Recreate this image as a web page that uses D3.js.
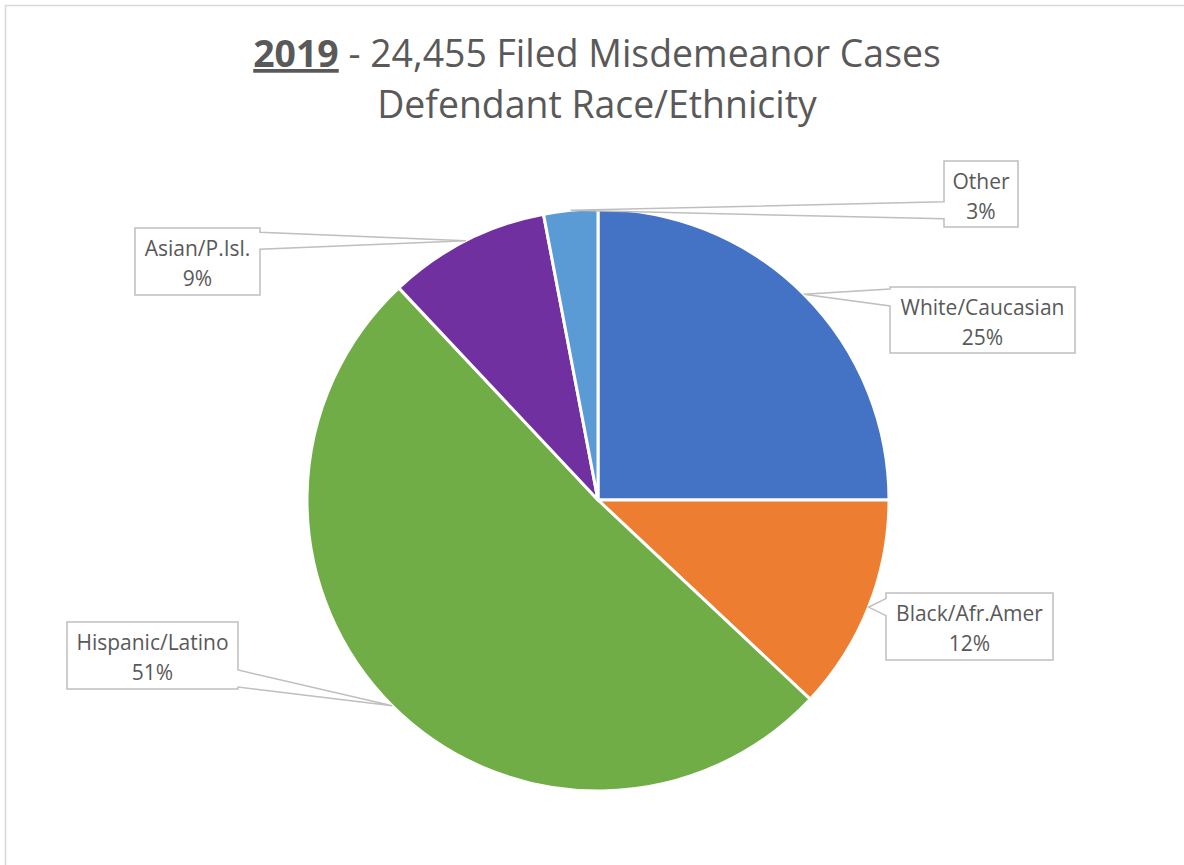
<!DOCTYPE html>
<html>
<head>
<meta charset="utf-8">
<script src="https://cdn.jsdelivr.net/npm/d3@7"></script>
<style>
  body { margin: 0; background: #fff; }
  svg { display: block; font-family: "Open Sans", sans-serif; }
</style>
</head>
<body>
<script>
const width = 1184;
const height = 865;

// data, clockwise from 12 o'clock
const categories = ['White/Caucasian', 'Black/Afr.Amer', 'Hispanic/Latino', 'Asian/P.Isl.', 'Other'];
const shares = [25, 12, 51, 9, 3];
const colors = ['#4472c4', '#ed7d31', '#70ad47', '#7030a0', '#5b9bd5'];

// callout boxes: [x, y, w, h]
const boxes = [
  [890, 287, 185, 66],
  [886, 593, 167, 67],
  [67, 622, 171, 67],
  [135, 228, 125, 67],
  [944, 161, 74, 66]
];

const cx = 598, cy = 500, radius = 291;
const textColor = '#595959';

const svg = d3.select('body').append('svg')
  .attr('width', width)
  .attr('height', height);

// chart area border
svg.append('rect')
  .attr('x', 5.5).attr('y', 5.5)
  .attr('width', width + 20).attr('height', height + 20)
  .attr('fill', '#fff')
  .attr('stroke', '#d9d9d9')
  .attr('stroke-width', 1.5);

// title
const title = svg.append('text')
  .attr('text-anchor', 'middle')
  .attr('fill', textColor)
  .attr('font-size', 37.4);
const line1 = title.append('tspan').attr('x', 597).attr('y', 67);
line1.append('tspan')
  .attr('font-weight', 'bold')
  .attr('text-decoration', 'underline')
  .text('2019');
line1.append('tspan').text(' - 24,455 Filed Misdemeanor Cases');
title.append('tspan').attr('x', 597).attr('y', 118).text('Defendant Race/Ethnicity');

// pie
const pie = d3.pie().sort(null).value(d => d);
const arcs = pie(shares);
const arc = d3.arc().innerRadius(0).outerRadius(radius);

const g = svg.append('g').attr('transform', `translate(${cx},${cy})`);
g.selectAll('path')
  .data(arcs)
  .enter().append('path')
  .attr('d', arc)
  .attr('fill', (d, i) => colors[i])
  .attr('stroke', '#fff')
  .attr('stroke-width', 3)
  .attr('stroke-linejoin', 'round');

// callouts
const half = 8.5;
arcs.forEach((d, i) => {
  const a = (d.startAngle + d.endAngle) / 2;
  const tx = cx + radius * Math.sin(a);
  const ty = cy - radius * Math.cos(a);
  const [x, y, w, h] = boxes[i];
  const onLeft = tx < x;
  const ex = onLeft ? x : x + w;
  const my = Math.max(y + half + 2, Math.min(y + h - half - 2, ty));

  // box outline with pointer wedge
  let p;
  if (onLeft) {
    p = `M${x},${y} H${x + w} V${y + h} H${x} V${my + half} L${tx},${ty} L${x},${my - half} Z`;
  } else {
    p = `M${x},${y} H${x + w} V${my - half} L${tx},${ty} L${x + w},${my + half} V${y + h} H${x} Z`;
  }
  svg.append('path')
    .attr('d', p)
    .attr('fill', '#fff')
    .attr('stroke', '#bfbfbf')
    .attr('stroke-width', 1.5)
    .attr('stroke-linejoin', 'miter');

  const t = svg.append('text')
    .attr('text-anchor', 'middle')
    .attr('fill', textColor)
    .attr('font-size', 21);
  t.append('tspan').attr('x', x + w / 2).attr('y', y + 28).text(categories[i]);
  t.append('tspan').attr('x', x + w / 2).attr('y', y + 58).text(shares[i] + '%');
});
</script>
</body>
</html>
